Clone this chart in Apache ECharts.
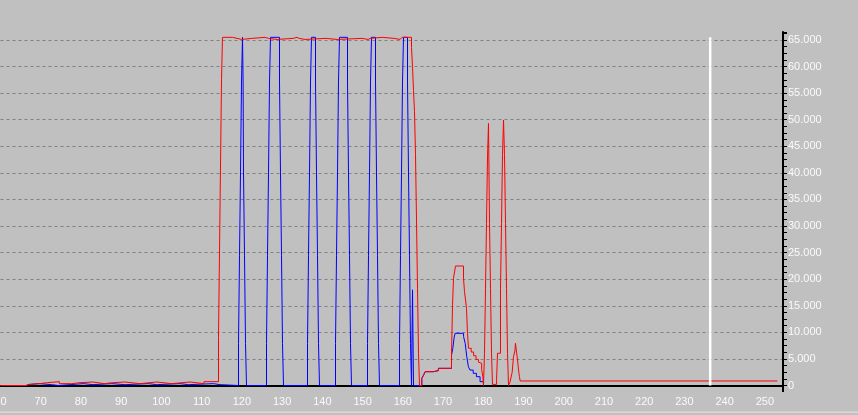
<!DOCTYPE html>
<html>
<head>
<meta charset="utf-8">
<script src="https://cdn.jsdelivr.net/npm/echarts@6/dist/echarts.min.js"></script>
<style>
html,body{margin:0;padding:0;background:#c0c0c0;}
#chart{width:858px;height:415px;}
</style>
</head>
<body>
<div id="chart"></div>
<script>
// ---- data ([x, level starting at x]) ----
const xMin = 60, xMax = 254.5, xStep = 10;
const yMax = 66500, yStep = 5000;
const markerX = [236.4];
const markerTop = [65500];

const blueSeries = [
[60,0],[66.34,200],[67.17,344],[69.66,157],[72.73,0],[74.38,344],
[80.6,157],[83.0,344],[87.65,157],[90.95,344],[96.76,157],[98.83,344],[104.63,157],[106.7,344],[112.9,157],[114.6,0],
[119.158,7900],[119.407,24400],[119.655,40000],[119.904,57100],[120.153,65500],[120.302,57100],[120.401,40000],[120.650,24400],[120.898,7900],[121.147,0],
[126.118,7900],[126.367,24400],[126.615,40000],[126.864,57100],[127.112,65500],[129.349,57100],[129.598,40000],[129.847,24400],[130.095,7900],[130.344,0],
[136.309,7900],[136.558,24400],[136.806,40000],[137.055,57100],[137.303,65500],[138.298,57100],[138.546,40000],[138.795,24400],[139.043,7900],[139.292,0],
[143.269,7900],[143.517,24400],[143.766,40000],[144.014,57100],[144.263,65500],[146.252,57100],[146.500,40000],[146.749,24400],[146.997,7900],[147.246,0],
[151.223,7900],[151.472,24400],[151.720,40000],[151.969,57100],[152.217,65500],[153.212,57100],[153.460,40000],[153.709,24400],[153.957,7900],[154.206,0],
[159.177,7900],[159.426,24400],[159.674,40000],[159.923,57100],[160.171,65500],[161.166,57100],[161.414,40000],[161.663,24400],[161.911,7900],[162.160,0],
[162.409,18000],[162.657,0],
[164.149,0],[164.72,1350],[165.2,2000],[165.54,2600],[167.61,2800],[168.85,3230],[172.103,5740],[172.43,7000],[172.75,9000],[173.0,9820],
[175.1,9200],[175.5,7940],[175.9,5400],[176.3,3540],[176.7,2900],[177.5,2290],[178.3,1660],[179.2,720],[180.05,0]
];

const redSeries = [
[60,0],[66.34,200],[67.17,344],[69.66,532],[71.65,721],[74.63,344],[77.70,532],[79.77,658],[82.93,344],[85.81,532],[87.88,658],[90.95,344],[94.68,658],[98.83,344],[102.56,658],[107.11,344],[110.59,721],
[114.187,9000],[114.436,25100],[114.933,57500],[115.182,65500],[117.64,65300],[118.80,65100],[119.97,65300],[122.46,65500],[125.76,65300],[126.59,65100],[128.75,65300],[132.73,65500],[133.72,65300],[134.22,65100],[135.71,65300],[140.93,65100],[143.66,65300],[149.88,65100],[151.37,65300],[151.87,65500],[154.85,65300],[157.84,65100],[159.33,65300],[159.82,65500],
[162.160,63600],[162.409,60000],[162.657,55500],[162.906,51500],[163.154,43400],[163.403,31100],[163.652,18300],[163.900,6060],[164.149,0],
[164.72,1350],[165.2,2000],[165.54,2600],[167.61,2800],[168.85,3230],[172.103,5740],[172.351,15000],[172.600,20170],[173.097,22480],[175.086,20170],[175.334,17650],[175.831,14520],[176.080,9820],[176.328,7000],[177.0,6300],[177.6,5600],[178.2,4900],[178.8,4400],[179.22,4180],[179.6,3000],[179.9,1660],[180.05,0],
[180.306,6060],[180.554,18300],[180.803,30500],[181.051,43000],[181.300,49300],[181.548,30500],[181.797,18300],[182.046,6060],[182.294,200],
[183.3,1000],[183.536,6060],[184.282,18300],[184.530,30500],[184.779,43400],[185.028,49950],[185.276,43400],[185.525,30500],[185.773,18300],[186.022,6060],[186.271,0],
[186.69,800],[187.18,2500],[187.51,5400],[187.86,6500],[188.0,7940],[188.42,5400],[188.84,2500],[188.99,1660],[189.17,850],[253.1,850]
];

const font = '"Liberation Sans", Arial, sans-serif';
const chart = echarts.init(document.getElementById('chart'), null, {renderer: 'canvas'});
chart.setOption({
  animation: false,
  backgroundColor: '#c0c0c0',
  grid: {left: 0.5, right: 75, top: 32, bottom: 29.5, containLabel: false, outerBoundsMode: 'none'},
  xAxis: {
    type: 'value', min: xMin, max: xMax, interval: xStep,
    offset: 5.5,
    axisLine: {show: true, lineStyle: {color: '#000', width: 2}},
    axisTick: {show: false},
    splitLine: {show: false},
    axisLabel: {
      color: '#fafafa', fontFamily: font, fontSize: 11, margin: 5,
      formatter: v => (v % 10 === 0 ? String(v) : '')
    }
  },
  yAxis: {
    type: 'value', position: 'right', min: 0, max: yMax, interval: yStep,
    axisLine: {show: true, lineStyle: {color: '#000', width: 2}},
    axisTick: {show: true, inside: false, length: 4, lineStyle: {color: '#000', width: 1}},
    minorTick: {show: true, splitNumber: 4, length: 4, lineStyle: {color: '#000', width: 1}},
    splitLine: {show: true, showMaxLine: false, showMinLine: true,
      lineStyle: {color: '#808080', width: 1, type: [3, 3]}},
    axisLabel: {
      color: '#fafafa', fontFamily: font, fontSize: 11, margin: 5,
      formatter: v => (v % 5000 !== 0 ? '' : (v === 0 ? '0' : (v / 1000) + '.000'))
    }
  },
  graphic: [
    {type: 'line', shape: {x1: 783, y1: 384, x2: 783, y2: 392}, style: {stroke: '#000', lineWidth: 2}, z: 10},
    {type: 'rect', shape: {x: 0, y: 411.5, width: 858, height: 1.5}, style: {fill: '#dadada'}, z: 0}
  ],
  series: [
    {type: 'line', name: 'blue', data: blueSeries, step: 'end', showSymbol: false, symbol: 'none',
     lineStyle: {color: '#0000ff', width: 1}, clip: false, z: 2},
    {type: 'line', name: 'red', data: redSeries, step: 'end', showSymbol: false, symbol: 'none',
     lineStyle: {color: '#ff0000', width: 1}, clip: false, z: 3},
    {type: 'line', name: 'marker', data: [[markerX[0], 0], [markerX[0], markerTop[0]]], showSymbol: false, symbol: 'none',
     lineStyle: {color: '#ffffff', width: 2.5}, clip: false, z: 4}
  ]
});
</script>
</body>
</html>
